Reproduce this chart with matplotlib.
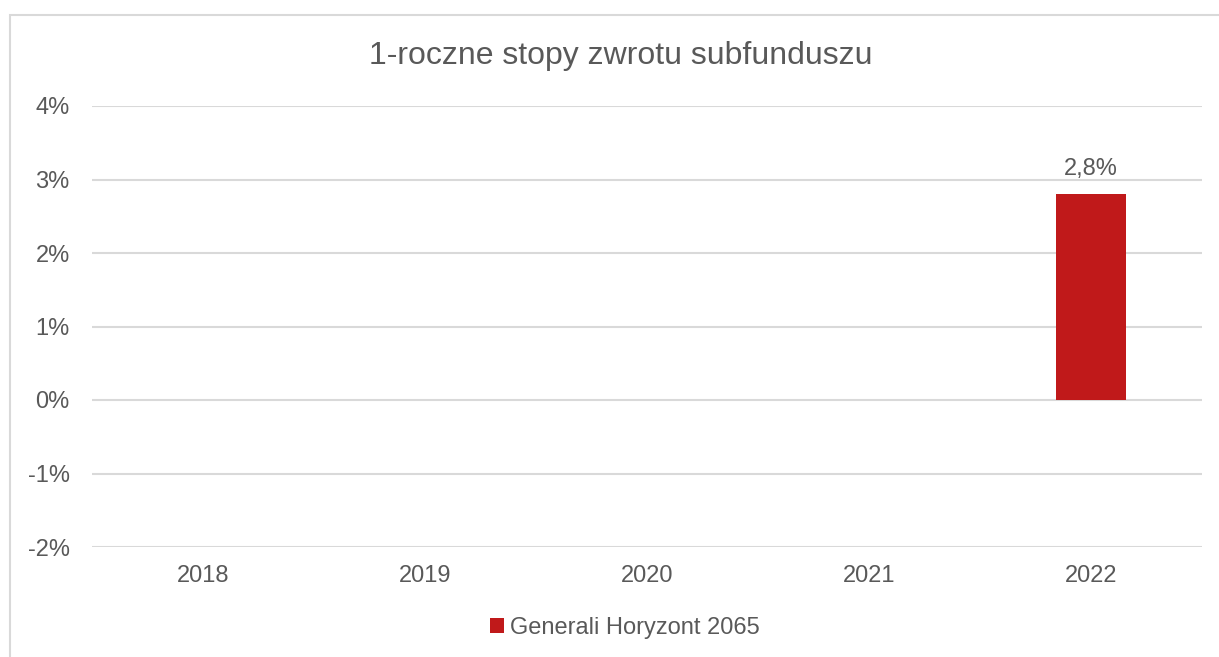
import numpy as np
import matplotlib.pyplot as plt
from matplotlib.patches import Rectangle
from matplotlib.ticker import FuncFormatter

plt.rcParams['font.family'] = ['Liberation Sans', 'DejaVu Sans']

years = ['2018', '2019', '2020', '2021', '2022']
returns = [np.nan, np.nan, np.nan, np.nan, 2.8]
series_name = 'Generali Horyzont 2065'
bar_color = '#c0191a'
text_color = '#595959'
grid_color = '#d9d9d9'

fig = plt.figure(figsize=(12.19, 6.57), dpi=100)
ax = fig.add_axes([92 / 1219, 1 - 547 / 657, 1110 / 1219, 441 / 657])

# outer chart border
fig.patches.append(Rectangle((10 / 1219, -0.1), 1.2, 1 - 15 / 657 + 0.1,
                             transform=fig.transFigure, fill=False,
                             edgecolor=grid_color, linewidth=1.5))

x = np.arange(len(years))
bars = ax.bar(x, returns, width=0.315, color=bar_color, label=series_name, zorder=3)

for xi, v in zip(x, returns):
    if not np.isnan(v):
        ax.text(xi, v + 0.2, f'{v:.1f}%'.replace('.', ','), ha='center', va='bottom',
                fontsize=17, color=text_color)

ax.set_xlim(-0.5, len(years) - 0.5)
ax.set_ylim(-2, 4)
ax.set_yticks(np.arange(-2, 5, 1))
ax.yaxis.set_major_formatter(FuncFormatter(lambda v, p: f'{v:.0f}%'))
ax.set_xticks(x)
ax.set_xticklabels(years)
ax.grid(axis='y', color=grid_color, linewidth=1.5, zorder=0)
ax.tick_params(axis='both', length=0, labelsize=17, colors=text_color)
ax.tick_params(axis='y', pad=16)
ax.tick_params(axis='x', pad=13)
for s in ax.spines.values():
    s.set_visible(False)

fig.text(621 / 1219, 1 - 56 / 657, '1-roczne stopy zwrotu subfunduszu', ha='center',
         va='center', fontsize=23, color=text_color)

ax.legend(loc='center', bbox_to_anchor=(625 / 1219, 1 - 628 / 657),
          bbox_transform=fig.transFigure, frameon=False, fontsize=17,
          handlelength=0.6, handleheight=0.6, handletextpad=0.25, labelcolor=text_color)

fig.savefig('out.png', dpi=100)
